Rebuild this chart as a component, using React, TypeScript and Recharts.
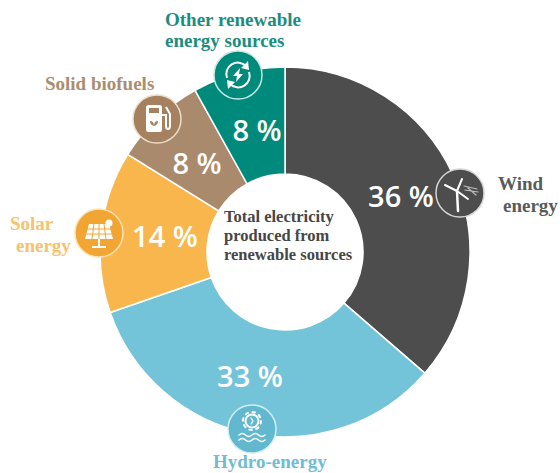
import { Pie, PieChart } from "recharts";

const categories = [
  "Wind energy",
  "Hydro-energy",
  "Solar energy",
  "Solid biofuels",
  "Other renewable energy sources",
];
const shares = [36, 33, 14, 8, 8];
const colors = ["#4d4d4d", "#74c4d9", "#f9b64c", "#a98a6c", "#008a7b"];
const badgeColors = ["#4d4d4d", "#62b8cf", "#f1a634", "#a5815f", "#008a7b"];
const badgeRings = ["#d5d5d5", "#d3eef5", "#fde3b5", "#ecdccb", "#c5e8e3"];

const pieData = categories.map((name, i) => ({ name, value: shares[i], fill: colors[i] }));

// hand placed, the value labels sit off the slice centroids
const valueAnchors = [
  [401, 195],
  [250, 375],
  [165, 235],
  [197, 162],
  [257, 129],
];
const badgeAnchors = [
  [460, 193],
  [252, 429],
  [99, 233],
  [157, 119],
  [238, 75],
];

const captions = [
  { color: "#5a5a5a", lines: [["Wind", 498, 190], ["energy", 503, 212]] },
  { color: "#6fbdd2", lines: [["Hydro-energy", 213, 468]] },
  { color: "#f8c26a", lines: [["Solar", 10, 230], ["energy", 16, 252]] },
  { color: "#ab8d70", lines: [["Solid biofuels", 45, 90]] },
  { color: "#1b8d80", lines: [["Other renewable", 165, 26], ["energy sources", 165, 47]] },
] as const;

const centerLines = ["Total electricity", "produced from", "renewable sources"];

const serif = "'Liberation Serif', serif";

function WindIcon() {
  return (
    <g stroke="#fff" fill="none" strokeLinecap="round">
      <path d="M-3 -2 L-2 18" strokeWidth={2.5} />
      <path d="M-3 -2 L-15 -8 M-3 -2 L2 -14 M-3 -2 L8 6" strokeWidth={2} />
      <path d="M4 -7 L17 -4 M5 -3 L18 -1 M8 -5 L16 2" stroke="#bdbdbd" strokeWidth={1.2} />
    </g>
  );
}

function HydroIcon() {
  return (
    <g stroke="#fff" fill="none" strokeLinecap="round">
      <circle cx={0} cy={-8} r={6.5} strokeWidth={2} />
      <circle cx={0} cy={-8} r={9} strokeWidth={2} strokeDasharray="2.5 4.6" />
      <path d="M-1 -11 L1 -8 L-1 -5" strokeWidth={1.2} />
      <path d="M-13 6 q3.2 -3 6.5 0 t6.5 0 t6.5 0 t6.5 0" strokeWidth={1.5} />
      <path d="M-13 11 q3.2 -3 6.5 0 t6.5 0 t6.5 0 t6.5 0" strokeWidth={1.5} />
    </g>
  );
}

function SolarIcon() {
  return (
    <g>
      <path d="M-10 -9 L10 -9 L14 6 L-14 6 Z" fill="#fff" />
      <path
        d="M-5 -9 L-7 6 M0 -9 L0 6 M5 -9 L7 6 M-12 -4 L12 -4 M-13 1 L13 1"
        stroke="#f1a634"
        strokeWidth={1}
      />
      <circle cx={10} cy={-10} r={3.5} fill="#fff" />
      <path d="M0 6 L0 14 M-7 14 L7 14" stroke="#fff" strokeWidth={2} />
    </g>
  );
}

function BiofuelIcon() {
  return (
    <g>
      <rect x={-11} y={-14} width={16} height={27} rx={2.5} fill="#fff" />
      <rect x={-8} y={-11} width={10} height={5} fill="#a5815f" />
      <path d="M-3 7 q-4 -1 -4 -5 q4 0 4 5 q0 -5 4 -5 q0 4 -4 5" fill="#a5815f" />
      <path
        d="M5 -4 L9 -4 L9 7 Q9 10 11 10 Q13 10 13 7 L13 -5 L9 -12"
        stroke="#fff"
        strokeWidth={2}
        fill="none"
      />
    </g>
  );
}

function CycleIcon() {
  return (
    <g>
      <path d="M-11 3 A11.5 11.5 0 0 1 8 -9" stroke="#fff" strokeWidth={2} fill="none" />
      <path d="M11 -3 A11.5 11.5 0 0 1 -8 9" stroke="#fff" strokeWidth={2} fill="none" />
      <path d="M10 -14 L11 -5 L3 -7 Z M-10 14 L-11 5 L-3 7 Z" fill="#fff" />
      <path d="M2 -7 L-5 1 L-1 1 L-2 7 L5 -1 L1 -1 Z" fill="#fff" />
    </g>
  );
}

const icons = [WindIcon, HydroIcon, SolarIcon, BiofuelIcon, CycleIcon];

type SliceLabelProps = { index?: number };

// value, badge and caption of one slice
function SliceLabel({ index = 0 }: SliceLabelProps) {
  const [vx, vy] = valueAnchors[index];
  const [bx, by] = badgeAnchors[index];
  const Icon = icons[index];
  return (
    <g>
      <text
        x={vx}
        y={vy}
        textAnchor="middle"
        dominantBaseline="central"
        fill="#fff"
        fontFamily="'Open Sans', sans-serif"
        fontWeight={600}
        fontSize={29}
      >
        {shares[index]} %
      </text>
      <g transform={`translate(${bx} ${by})`}>
        <circle r={24} fill={badgeColors[index]} stroke={badgeRings[index]} strokeWidth={1.5} />
        <Icon />
      </g>
      {captions[index].lines.map(([line, x, y]) => (
        <text
          key={line}
          x={x}
          y={y}
          fill={captions[index].color}
          fontFamily={serif}
          fontWeight={700}
          fontSize={19}
        >
          {line}
        </text>
      ))}
    </g>
  );
}

export default function App() {
  return (
    <div style={{ position: "absolute", left: 0, top: 0, width: 560, height: 473, background: "#fff" }}>
      <PieChart width={560} height={473} margin={{ top: 0, right: 0, bottom: 0, left: 0 }}>
        <Pie
          data={pieData}
          dataKey="value"
          nameKey="name"
          cx={285}
          cy={252}
          innerRadius={78}
          outerRadius={185}
          startAngle={90}
          endAngle={-270}
          stroke="#fff"
          strokeWidth={1.5}
          label={(props: SliceLabelProps) => <SliceLabel index={props.index} />}
          labelLine={false}
          isAnimationActive={false}
        />
        <text fontFamily={serif} fontWeight={700} fontSize={16.5} fill="#464646">
          {centerLines.map((line, i) => (
            <tspan key={line} x={224} y={222 + i * 19}>
              {line}
            </tspan>
          ))}
        </text>
      </PieChart>
    </div>
  );
}
